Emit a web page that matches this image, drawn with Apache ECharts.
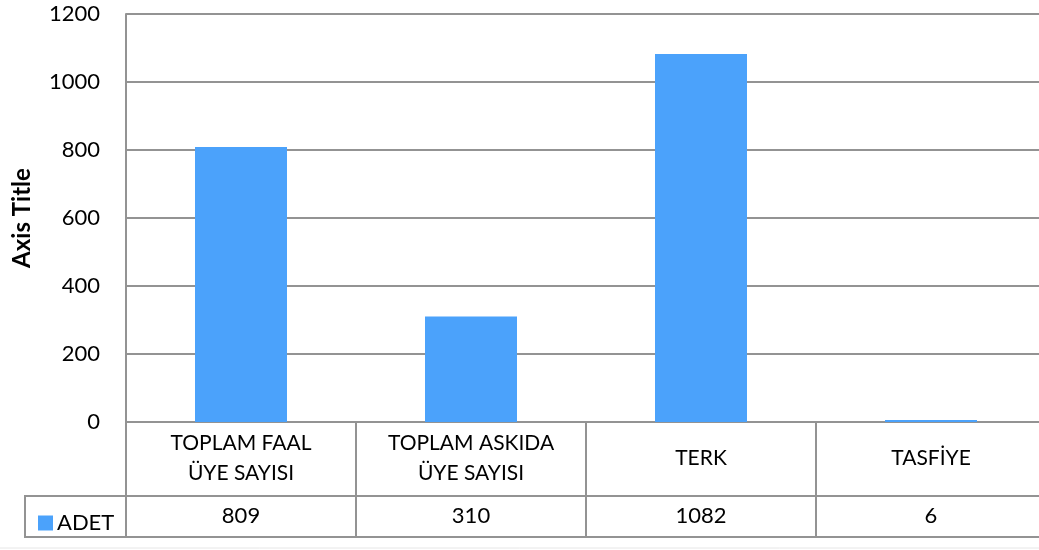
<!DOCTYPE html>
<html>
<head>
<meta charset="utf-8">
<script src="https://cdn.jsdelivr.net/npm/echarts@6/dist/echarts.min.js"></script>
<style>
  html, body { margin: 0; padding: 0; background: #fff; }
  #chart { width: 1039px; height: 550px; }
</style>
</head>
<body>
<div id="chart"></div>
<script>
// Veri
var categories = ['TOPLAM FAAL\nÜYE SAYISI', 'TOPLAM ASKIDA\nÜYE SAYISI', 'TERK', 'TASFİYE'];
var seriesName = 'ADET';
var values = [809, 310, 1082, 6];
var yTicks = [0, 200, 400, 600, 800, 1000, 1200];

var FONT = 'Lato, "Open Sans", sans-serif';
var LINE = '#939393';

var chart = echarts.init(document.getElementById('chart'), null, { renderer: 'canvas' });

chart.setOption({
  animation: false,
  textStyle: { fontFamily: FONT },
  grid: { left: 126, right: -7, top: 14, bottom: 128, containLabel: false, outerBoundsMode: 'none' },
  legend: {
    left: 33, top: 507,
    itemWidth: 15, itemHeight: 15, itemGap: 6,
    icon: 'rect',
    textStyle: { fontSize: 22, color: '#000', fontFamily: FONT, padding: [0, 0, 0, -1] },
    data: [seriesName]
  },
  xAxis: [
    {
      type: 'category',
      data: categories,
      axisLine: { show: true, lineStyle: { color: LINE, width: 2 } },
      axisTick: { show: true, length: 115, lineStyle: { color: LINE, width: 2 } },
      axisLabel: {
        color: '#000', fontSize: 21, fontFamily: FONT,
        margin: 36, verticalAlign: 'middle', lineHeight: 30, interval: 0, align: 'center'
      }
    },
    {
      type: 'category',
      position: 'bottom',
      offset: 74,
      data: values.map(String),
      axisLine: { show: true, lineStyle: { color: LINE, width: 2 } },
      axisTick: { show: false },
      axisLabel: { color: '#000', fontSize: 22, fontFamily: FONT, margin: 20, verticalAlign: 'middle', interval: 0 }
    },
    {
      type: 'category',
      position: 'bottom',
      offset: 115,
      data: values.map(String),
      axisLine: { show: true, lineStyle: { color: LINE, width: 2 } },
      axisTick: { show: false },
      axisLabel: { show: false }
    }
  ],
  yAxis: {
    type: 'value',
    min: 0, max: 1200, interval: 200,
    name: 'Axis Title',
    nameLocation: 'middle',
    nameRotate: 90,
    nameGap: 92,
    nameTextStyle: { fontSize: 24, fontWeight: 'bold', color: '#000', fontFamily: FONT },
    axisLine: { show: true, lineStyle: { color: LINE, width: 2 } },
    axisTick: { show: false },
    axisLabel: {
      color: '#000', fontSize: 22, fontFamily: FONT, margin: 26,
      formatter: function (v) { return yTicks.indexOf(v) >= 0 ? String(v) : ''; }
    },
    splitLine: { show: true, lineStyle: { color: LINE, width: 2 } }
  },
  series: [{
    name: seriesName,
    type: 'bar',
    xAxisIndex: 0,
    barWidth: '40%',
    itemStyle: { color: '#4ba2fb' },
    data: values
  }],
  graphic: [
    // legend cell of the data table
    {
      type: 'polyline', silent: true,
      shape: { points: [[126, 496], [25, 496], [25, 537], [126, 537]] },
      style: { stroke: LINE, lineWidth: 2, fill: null }
    },
    {
      type: 'line', silent: true,
      shape: { x1: 0, y1: 548, x2: 1039, y2: 548 },
      style: { stroke: '#e6e6e6', lineWidth: 1 }
    }
  ]
});
</script>
</body>
</html>
